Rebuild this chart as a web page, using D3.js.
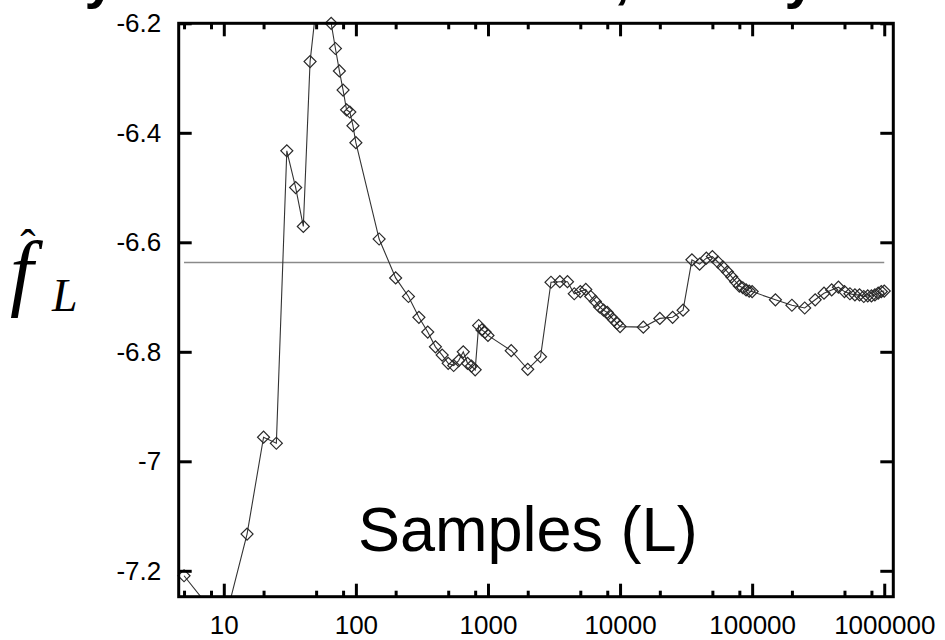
<!DOCTYPE html>
<html>
<head>
<meta charset="utf-8">
<script src="https://cdn.jsdelivr.net/npm/d3@7"></script>
<style>
  body { margin: 0; background: #fff; }
  svg { display: block; }
</style>
</head>
<body>
<script>
// sample sizes L and the running estimate f_L
const sampleSizes = [
  5, 10, 15, 20, 25, 30, 35, 40, 45, 50, 55, 60, 65, 70, 75, 80, 85, 90, 95, 100,
  150, 200, 250, 300, 350, 400, 450, 500, 550, 600, 650, 700, 750, 800, 850, 900, 950, 1000,
  1500, 2000, 2500, 3000, 3500, 4000, 4500, 5000, 5500, 6000, 6500, 7000, 7500, 8000, 8500, 9000, 9500, 10000,
  15000, 20000, 25000, 30000, 35000, 40000, 45000, 50000, 55000, 60000, 65000, 70000, 75000, 80000, 85000, 90000, 95000, 100000,
  150000, 200000, 250000, 300000, 350000, 400000, 450000, 500000, 550000, 600000, 650000, 700000, 750000, 800000, 850000, 900000, 950000, 1000000
];
const estimates = [
  -7.209, -7.30, -7.133, -6.956, -6.967, -6.433, -6.500, -6.571, -6.270, -6.17, -6.12, -6.15, -6.200, -6.246, -6.287, -6.322, -6.358, -6.362, -6.387, -6.418,
  -6.594, -6.665, -6.699, -6.737, -6.764, -6.791, -6.806, -6.821, -6.825, -6.816, -6.800, -6.821, -6.826, -6.833, -6.752, -6.760, -6.764, -6.770,
  -6.798, -6.832, -6.809, -6.673, -6.672, -6.672, -6.694, -6.690, -6.686, -6.699, -6.708, -6.718, -6.724, -6.728, -6.736, -6.742, -6.748, -6.754,
  -6.755, -6.739, -6.737, -6.724, -6.632, -6.640, -6.629, -6.626, -6.636, -6.645, -6.654, -6.663, -6.672, -6.680, -6.683, -6.687, -6.689, -6.690,
  -6.705, -6.715, -6.720, -6.705, -6.693, -6.687, -6.682, -6.690, -6.694, -6.696, -6.696, -6.699, -6.698, -6.698, -6.696, -6.693, -6.690, -6.689
];
const trueValue = -6.637;

const xMajorTicks = [10, 100, 1000, 10000, 100000, 1000000];
const xMinorTicks = [5, 8, 20, 50, 80, 200, 500, 800, 2000, 5000, 8000,
  20000, 50000, 80000, 200000, 500000, 800000];
const yTicks = [-6.2, -6.4, -6.6, -6.8, -7, -7.2];

const width = 945, height = 640;
const plotLeft = 178.7, plotRight = 893.3, plotTop = 23.3, plotBottom = 596.7;

const data = sampleSizes.map((L, i) => ({ L: L, f: estimates[i] }));

const x = d3.scaleLog().domain([Math.pow(10, 0.6586), Math.pow(10, 6.0686)]).range([plotLeft, plotRight]);
const y = d3.scaleLinear().domain([-7.2473, -6.2]).range([plotBottom, plotTop]);

const svg = d3.select("body").append("svg")
  .attr("width", width).attr("height", height)
  .style("font-family", "'Liberation Sans', Arial, Helvetica, sans-serif");

svg.append("clipPath").attr("id", "plot")
  .append("rect")
  .attr("x", plotLeft).attr("y", plotTop)
  .attr("width", plotRight - plotLeft).attr("height", plotBottom - plotTop);

// cut-off title line above the plot
const titleBits = [{ t: "y", x: 100 }, { t: ",", x: 622 }, { t: "y", x: 800 }];
svg.append("g").selectAll("text")
  .data(titleBits)
  .enter()
  .append("text")
  .attr("x", (d) => d.x)
  .attr("y", -3)
  .attr("text-anchor", "middle")
  .attr("font-size", 56)
  .attr("font-weight", "bold")
  .text((d) => d.t);

// reference value
svg.append("line")
  .attr("x1", x(sampleSizes[0])).attr("x2", x(sampleSizes[sampleSizes.length - 1]))
  .attr("y1", y(trueValue)).attr("y2", y(trueValue))
  .attr("stroke", "#8a8a8a").attr("stroke-width", 1.6);

// estimate curve
const line = d3.line().x((d) => x(d.L)).y((d) => y(d.f));
svg.append("path")
  .datum(data)
  .attr("clip-path", "url(#plot)")
  .attr("fill", "none")
  .attr("stroke", "#333")
  .attr("stroke-width", 1.1)
  .attr("d", line);

// diamonds (only those inside the y range are drawn)
const diamond = d3.symbol().type(d3.symbolSquare).size(72);
svg.append("g").selectAll("path")
  .data(data.filter((d) => d.f <= -6.199 && d.f >= -7.2473))
  .enter()
  .append("path")
  .attr("d", diamond)
  .attr("transform", (d) => `translate(${x(d.L)},${y(d.f)}) rotate(45)`)
  .attr("fill", "none")
  .attr("stroke", "#2a2a2a")
  .attr("stroke-width", 1.2);

// axes, ticks pointing inward
const styleAxis = (g) => {
  g.select(".domain").remove();
  g.selectAll(".tick line").attr("stroke", "#000").attr("stroke-width", 3);
  g.selectAll(".tick text").attr("fill", "#000").attr("font-size", 26)
    .attr("font-family", "'Liberation Sans', Arial, Helvetica, sans-serif");
};
const plain = (d) => String(d);

svg.append("g")
  .attr("transform", `translate(0,${plotBottom})`)
  .call(d3.axisBottom(x).tickValues(xMajorTicks).tickSize(-13).tickPadding(19).tickFormat(plain))
  .call(styleAxis);
svg.append("g")
  .attr("transform", `translate(0,${plotBottom})`)
  .call(d3.axisBottom(x).tickValues(xMinorTicks).tickSize(-6).tickFormat(""))
  .call(styleAxis);
svg.append("g")
  .attr("transform", `translate(0,${plotTop})`)
  .call(d3.axisTop(x).tickValues(xMajorTicks).tickSize(-13).tickFormat(""))
  .call(styleAxis);
svg.append("g")
  .attr("transform", `translate(0,${plotTop})`)
  .call(d3.axisTop(x).tickValues(xMinorTicks).tickSize(-6).tickFormat(""))
  .call(styleAxis);
svg.append("g")
  .attr("transform", `translate(${plotLeft},0)`)
  .call(d3.axisLeft(y).tickValues(yTicks).tickSize(-13).tickPadding(17.5).tickFormat(plain))
  .call(styleAxis);
svg.append("g")
  .attr("transform", `translate(${plotRight},0)`)
  .call(d3.axisRight(y).tickValues(yTicks).tickSize(-13).tickFormat(""))
  .call(styleAxis);

// frame
svg.append("rect")
  .attr("x", plotLeft).attr("y", plotTop)
  .attr("width", plotRight - plotLeft).attr("height", plotBottom - plotTop)
  .attr("fill", "none").attr("stroke", "#000").attr("stroke-width", 3);

// axis titles
svg.append("text")
  .attr("x", 358).attr("y", 551)
  .attr("font-size", 63)
  .text("Samples (L)");

const yLab = svg.append("g").attr("font-family", "'Liberation Serif', 'DejaVu Serif', serif");
yLab.append("text").attr("x", 10).attr("y", 300)
  .attr("font-size", 84).attr("font-style", "italic").text("f");
yLab.append("text").attr("x", 28).attr("y", 262)
  .attr("text-anchor", "middle").attr("font-size", 46).text("ˆ");
yLab.append("text").attr("x", 52).attr("y", 311)
  .attr("font-size", 46).attr("font-style", "italic").text("L");
</script>
</body>
</html>
